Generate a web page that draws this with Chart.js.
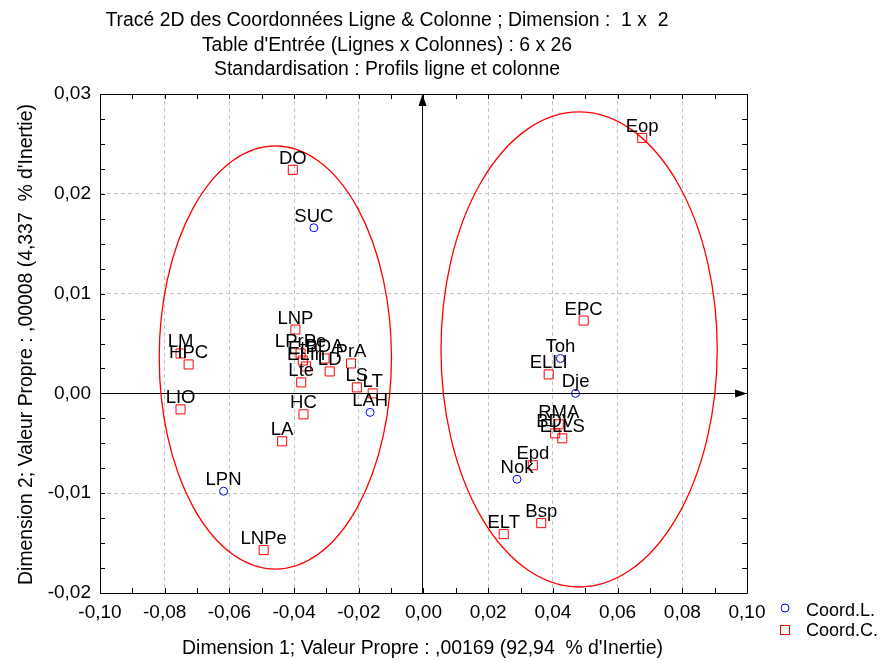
<!DOCTYPE html>
<html>
<head>
<meta charset="utf-8">
<script src="https://cdn.jsdelivr.net/npm/chart.js@4.4.1/dist/chart.umd.min.js"></script>
<style>
  html, body { margin: 0; padding: 0; background: #ffffff; }
  #wrap { width: 882px; height: 662px; }
</style>
</head>
<body>
<div id="wrap"><canvas id="acChart" width="882" height="662"></canvas></div>
<script>
// ---------- coordonnées ligne (6 lignes) ----------
const rowLabels = ['SUC', 'LAH', 'LPN', 'Toh', 'Dje', 'Nok'];
const rowX = [-0.0339, -0.0165, -0.0618, 0.0423, 0.0470, 0.0289];
const rowY = [0.0166, -0.0019, -0.0098, 0.0035, 0.0000, -0.0086];

// ---------- coordonnées colonne (26 colonnes) ----------
const colLabels = ['DO', 'LNP', 'LM', 'HPC', 'LIO', 'HC', 'LA', 'LNPe', 'PrA', 'LS', 'LT', 'Lte', 'LD',
                   'LPrPe', 'EtP', 'ELIn', 'BDA',
                   'Eop', 'EPC', 'ELLI', 'Epd', 'Bsp', 'ELT', 'RMA', 'BDV', 'ELLS'];
const colX = [-0.0404, -0.0396, -0.0751, -0.0726, -0.0751, -0.0371, -0.0437, -0.0494, -0.0224, -0.0206, -0.0157, -0.0378, -0.0290,
              -0.0380, -0.0373, -0.0363, -0.0306,
              0.0676, 0.0495, 0.0387, 0.0338, 0.0364, 0.0248, 0.0418, 0.0407, 0.0429];
const colY = [0.0224, 0.0064, 0.0040, 0.0029, -0.0016, -0.0021, -0.0048, -0.0157, 0.0030, 0.0006, 0.0000, 0.0011, 0.0022,
              0.0040, 0.0033, 0.0027, 0.0035,
              0.0256, 0.0073, 0.0019, -0.0072, -0.0130, -0.0141, -0.0031, -0.0040, -0.0045];

// ---------- ellipses des deux groupes (centre, demi-axes) ----------
const ellipseCX = [-0.0458, 0.0481];
const ellipseCY = [0.0036, 0.0044];
const ellipseRX = [0.0359, 0.0427];
const ellipseRY = [0.0212, 0.0238];

// ---------- axes ----------
const xMin = -0.10, xMax = 0.10, xStep = 0.02, xMinor = 0.01;
const yMin = -0.02, yMax = 0.03, yStep = 0.01, yMinor = 0.0025;

const titleLines = [
    "Tracé 2D des Coordonnées Ligne & Colonne ; Dimension :  1 x  2",
    "Table d'Entrée (Lignes x Colonnes) : 6 x 26",
    "Standardisation : Profils ligne et colonne"
];
const xTitle = "Dimension 1; Valeur Propre : ,00169 (92,94  % d'Inertie)";
const yTitle = "Dimension 2; Valeur Propre : ,00008 (4,337  % d'Inertie)";
const legendItems = ['Coord.L.', 'Coord.C.'];

const FONT = '"Liberation Sans", Arial, sans-serif';
const fmt = v => (Math.abs(v) < 1e-9 ? 0 : v).toFixed(2).replace('.', ',');

// cadre, graduations internes, axes fléchés, ellipses
const decorPlugin = {
    id: 'decor',
    beforeDatasetsDraw(chart) {
        const { ctx, chartArea: a, scales: { x, y } } = chart;
        ctx.save();
        // cadre
        ctx.strokeStyle = '#000';
        ctx.lineWidth = 1;
        ctx.beginPath();
        ctx.moveTo(a.left + 0.5, a.top + 0.5);
        ctx.lineTo(a.left + 0.5, a.bottom + 0.5);
        ctx.lineTo(a.right + 0.5, a.bottom + 0.5);
        ctx.lineTo(a.right + 0.5, a.top + 0.5);
        ctx.closePath();
        ctx.stroke();
        // graduations
        ctx.beginPath();
        for (let v = yMin; v <= yMax + 1e-9; v += yMinor) {
            const py = Math.round(y.getPixelForValue(v)) + 0.5;
            ctx.moveTo(a.left, py); ctx.lineTo(a.left + 5, py);
            ctx.moveTo(a.right, py); ctx.lineTo(a.right - 5, py);
        }
        for (let v = xMin; v <= xMax + 1e-9; v += xMinor) {
            const px = Math.round(x.getPixelForValue(v)) + 0.5;
            ctx.moveTo(px, a.bottom); ctx.lineTo(px, a.bottom - 5);
            ctx.moveTo(px, a.top); ctx.lineTo(px, a.top + 5);
        }
        ctx.stroke();
        // axes fléchés
        const x0 = Math.round(x.getPixelForValue(0)) - 1.5;
        const y0 = Math.round(y.getPixelForValue(0)) + 0.5;
        ctx.beginPath();
        ctx.moveTo(a.left, y0); ctx.lineTo(a.right - 2, y0);
        ctx.moveTo(x0, a.bottom); ctx.lineTo(x0, a.top + 2);
        ctx.stroke();
        ctx.fillStyle = '#000';
        ctx.beginPath();
        ctx.moveTo(a.right, y0); ctx.lineTo(a.right - 12, y0 - 4); ctx.lineTo(a.right - 12, y0 + 4); ctx.closePath();
        ctx.moveTo(x0, a.top); ctx.lineTo(x0 - 4, a.top + 12); ctx.lineTo(x0 + 4, a.top + 12); ctx.closePath();
        ctx.fill();
        // ellipses
        ctx.strokeStyle = '#ff0000';
        ctx.lineWidth = 1.3;
        ellipseCX.forEach((cx, i) => {
            const px = x.getPixelForValue(cx);
            const py = y.getPixelForValue(ellipseCY[i]);
            const rx = Math.abs(x.getPixelForValue(cx + ellipseRX[i]) - px);
            const ry = Math.abs(y.getPixelForValue(ellipseCY[i] + ellipseRY[i]) - py);
            ctx.beginPath();
            ctx.ellipse(px, py, rx, ry, 0, 0, Math.PI * 2);
            ctx.stroke();
        });
        ctx.restore();
    },
    afterDatasetsDraw(chart) {
        const { ctx, chartArea: a } = chart;
        ctx.save();
        // étiquettes des points
        ctx.fillStyle = '#000';
        ctx.font = '18.5px ' + FONT;
        ctx.textAlign = 'center';
        ctx.textBaseline = 'alphabetic';
        [rowLabels, colLabels].forEach((labels, d) => {
            chart.getDatasetMeta(d).data.forEach((pt, i) => {
                ctx.fillText(labels[i], pt.x, pt.y - 6);
            });
        });
        // titres
        ctx.font = '19.4px ' + FONT;
        titleLines.forEach((t, i) => ctx.fillText(t, 387, 26 + i * 24.5));
        ctx.fillText(xTitle, (a.left + a.right) / 2 - 1, 654);
        ctx.save();
        ctx.translate(32, (a.top + a.bottom) / 2 + 1);
        ctx.rotate(-Math.PI / 2);
        ctx.fillText(yTitle, 0, 0);
        ctx.restore();
        // légende
        ctx.textAlign = 'left';
        ctx.font = '18px ' + FONT;
        ctx.lineWidth = 1;
        ctx.strokeStyle = '#0000ff';
        ctx.beginPath(); ctx.arc(785, 608, 4, 0, Math.PI * 2); ctx.stroke();
        ctx.strokeStyle = '#ff0000';
        ctx.strokeRect(780.5, 625.5, 9, 9);
        ctx.textBaseline = 'middle';
        ctx.fillText(legendItems[0], 806, 611);
        ctx.fillText(legendItems[1], 806, 631);
        ctx.restore();
    }
};

const gridColor = (lo, hi) => c => {
    const v = c.tick.value;
    return (Math.abs(v - lo) < 1e-9 || Math.abs(v - hi) < 1e-9 || Math.abs(v) < 1e-9) ? 'rgba(0,0,0,0)' : '#c4c4c4';
};

const ctx = document.getElementById('acChart').getContext('2d');
new Chart(ctx, {
    type: 'scatter',
    data: {
        datasets: [
            {
                label: legendItems[0],
                data: rowX.map((v, i) => ({ x: v, y: rowY[i] })),
                pointStyle: 'circle',
                pointRadius: 4,
                borderColor: '#0000ff',
                backgroundColor: 'rgba(0,0,0,0)',
                borderWidth: 1
            },
            {
                label: legendItems[1],
                data: colX.map((v, i) => ({ x: v, y: colY[i] })),
                pointStyle: 'rect',
                pointRadius: 6.4,
                borderColor: '#ff0000',
                backgroundColor: 'rgba(0,0,0,0)',
                borderWidth: 1
            }
        ]
    },
    options: {
        responsive: false,
        animation: false,
        devicePixelRatio: 1,
        layout: { padding: { top: 94, right: 135, left: 0, bottom: 0 } },
        plugins: { legend: { display: false }, tooltip: { enabled: false } },
        scales: {
            x: {
                type: 'linear', min: xMin, max: xMax,
                afterFit: s => { s.height = 69; },
                grid: { color: gridColor(xMin, xMax), drawTicks: false, lineWidth: 1 },
                border: { display: false, dash: [4, 3] },
                ticks: { stepSize: xStep, padding: 8, color: '#000', font: { family: FONT, size: 19 }, callback: fmt, maxRotation: 0 }
            },
            y: {
                type: 'linear', min: yMin, max: yMax,
                afterFit: s => { s.width = 100; },
                grid: { color: gridColor(yMin, yMax), drawTicks: false, lineWidth: 1 },
                border: { display: false, dash: [4, 3] },
                ticks: { stepSize: yStep, padding: 9, color: '#000', font: { family: FONT, size: 19 }, callback: fmt }
            }
        }
    },
    plugins: [decorPlugin]
});
</script>
</body>
</html>
